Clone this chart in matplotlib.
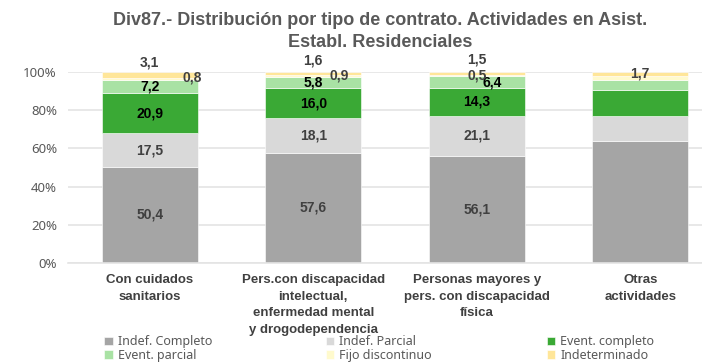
import matplotlib.pyplot as plt
import numpy as np

plt.rcParams['font.family'] = ['Noto Sans', 'DejaVu Sans']
boldFont = ['Liberation Sans', 'DejaVu Sans']

categories = ['Con cuidados\nsanitarios',
              'Pers.con discapacidad\nintelectual,\nenfermedad mental\ny drogodependencia',
              'Personas mayores y\npers. con discapacidad\nfísica',
              'Otras\nactividades']
seriesNames = ['Indef. Completo', 'Indef. Parcial', 'Event. completo',
               'Event. parcial', 'Fijo discontinuo', 'Indeterminado']
indefCompleto = [50.4, 57.6, 56.1, 63.7]
indefParcial = [17.5, 18.1, 21.1, 13.2]
eventCompleto = [20.9, 16.0, 14.3, 13.8]
eventParcial = [7.2, 5.8, 6.4, 5.3]
fijoDiscontinuo = [0.8, 0.9, 0.5, 1.7]
indeterminado = [3.1, 1.6, 1.5, 2.3]
# which values get a label in each category
showLabel = [
    [True, True, True, True, True, True],
    [True, True, True, True, True, True],
    [True, True, True, True, True, True],
    [False, False, False, False, True, False],
]

colors = ['#a5a5a5', '#d9d9d9', '#3aa935', '#a9e2a4', '#fffacd', '#ffe699']
textColors = ['#404040', '#404040', '#000000', '#000000', '#404040', '#404040']

series = [indefCompleto, indefParcial, eventCompleto,
          eventParcial, fijoDiscontinuo, indeterminado]

fig = plt.figure(figsize=(7.02, 3.64), dpi=100)
ax = fig.add_axes([68 / 702, 1 - 263 / 364, 1 - 68 / 702, (263 - 72) / 364])

x = np.arange(len(categories))
width = 0.586
bottom = np.zeros(len(categories))
bars = []
for i, vals in enumerate(series):
    b = ax.bar(x, vals, width, bottom=bottom, color=colors[i], label=seriesNames[i],
               edgecolor='white', linewidth=0.4, zorder=2)
    bars.append(b)
    bottom += np.array(vals)

# label positions: default is the middle of each segment, small ones moved
bottom = np.zeros(len(categories))
for i, vals in enumerate(series):
    for j, v in enumerate(vals):
        if not showLabel[j][i]:
            continue
        lx, ly = x[j], bottom[j] + v / 2
        if i == 4:
            lx, ly = x[j] + [0.26, 0.16, 0.0, 0.0][j], [96.9, 98.1, 98.1, 99.0][j]
        elif i == 5:
            ly = [105.2, 105.8, 106.8, 0][j]
        elif i == 3 and j == 2:
            lx = x[j] + 0.095
        ax.text(lx, ly, '{:.1f}'.format(v).replace('.', ','), ha='center', va='center',
                fontsize=10, fontweight='bold', family=boldFont, color=textColors[i],
                zorder=3, clip_on=False)
    bottom += np.array(vals)

ax.set_ylim(0, 100)
ax.set_xlim(-0.5, (702 - 68) / 163.5 - 0.5)
ax.set_yticks(np.arange(0, 101, 20))
ax.set_yticklabels([str(t) + '%' for t in range(0, 101, 20)])
ax.yaxis.grid(True, color='#e4e4e4', linewidth=1.2, zorder=0)
ax.set_axisbelow(True)
ax.tick_params(axis='y', length=0, labelsize=9.5, labelcolor='#595959', pad=8)
ax.tick_params(axis='x', length=0, labelsize=9.5, labelcolor='#404040', pad=8)
ax.set_xticks(x)
ax.set_xticklabels(categories, fontweight='bold', family=boldFont,
                   linespacing=1.5, va='top')
for s in ['top', 'right', 'left']:
    ax.spines[s].set_visible(False)
ax.spines['bottom'].set_color('#e4e4e4')
ax.spines['bottom'].set_linewidth(1.2)

fig.text(0.542, 0.913, 'Div87.- Distribución por tipo de contrato. Actividades en Asist.\nEstabl. Residenciales',
         ha='center', va='center', fontsize=13, fontweight='bold', family=boldFont,
         color='#595959', linespacing=1.35)

# one legend per column, rows read left to right
for col, xpos in enumerate([0.138, 0.453, 0.768]):
    idx = [col, col + 3]
    fig.legend([bars[k] for k in idx], [seriesNames[k] for k in idx],
               loc='lower left', bbox_to_anchor=(xpos, -0.014), frameon=False,
               fontsize=9, labelcolor='#595959', handlelength=0.7, handleheight=0.7,
               handletextpad=0.4, labelspacing=0.02, borderaxespad=0.2)

fig.savefig('out.png', dpi=100)
